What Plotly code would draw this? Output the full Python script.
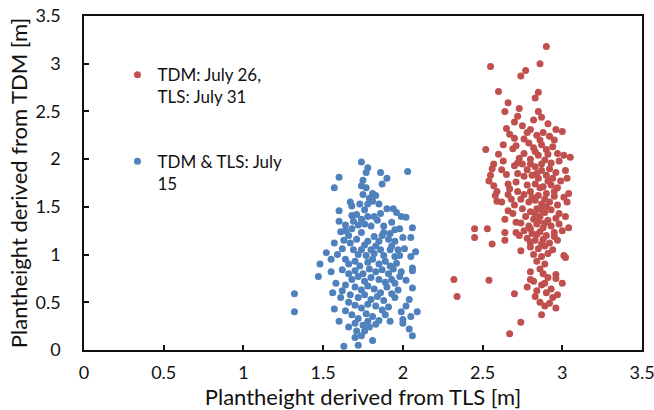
import plotly.graph_objects as go

# ---- data ----
blue_pts = [
    (1.74,1.97),(1.78,1.91),(1.77,1.86),(1.60,1.81),(2.03,1.87),(1.90,1.80),(1.87,1.74),(1.75,1.78),
    (1.74,1.72),(1.77,1.70),(1.81,1.64),(1.75,1.63),(1.83,1.62),(1.79,1.59),(1.67,1.55),(1.68,1.51),
    (1.60,1.46),(1.78,1.53),(1.85,1.53),(1.81,1.56),(1.96,1.44),(1.60,1.35),(1.64,1.31),(2.02,1.39),
    (1.99,1.40),(2.06,1.28),(2.05,1.18),(1.57,1.12),(1.61,1.24),(1.66,1.20),(1.68,1.41),(1.71,1.42),
    (1.74,1.37),(1.78,1.40),(1.82,1.40),(1.86,1.43),(1.76,1.32),(1.80,1.30),(1.84,1.36),(1.88,1.30),
    (1.93,1.34),(1.95,1.26),(1.98,1.27),(1.88,1.23),(1.82,1.19),(1.74,1.23),(1.71,1.16),(1.78,1.14),
    (1.85,1.14),(1.91,1.16),(1.95,1.14),(2.00,1.18),(1.92,1.22),(1.68,1.27),(1.64,1.25),(1.67,1.12),
    (1.69,1.05),(1.74,1.05),(1.80,1.05),(1.86,1.05),(1.92,1.05),(1.97,1.05),(2.01,1.06),(1.93,1.09),
    (1.83,1.09),(1.76,1.10),(1.72,1.00),(1.77,0.99),(1.82,1.01),(1.88,0.99),(1.95,0.98),(2.05,0.98),
    (1.98,0.99),(2.06,0.83),(2.06,0.86),(1.99,0.82),(1.47,0.77),(1.55,0.82),(1.32,0.59),(1.32,0.40),
    (1.57,0.43),(1.63,0.04),(1.72,0.05),(1.81,0.10),(1.76,0.20),(1.70,0.13),(1.74,0.15),(2.06,0.15),
    (2.04,0.22),(2.00,0.32),(2.05,0.35),(2.09,0.40),(2.02,0.46),(2.04,0.53),(2.06,0.65),(1.97,0.63),
    (1.93,0.59),(1.64,0.95),(1.66,0.90),(1.70,0.93),(1.73,0.88),(1.78,0.92),(1.81,0.95),(1.85,0.90),
    (1.89,0.93),(1.92,0.88),(1.96,0.91),(1.62,0.84),(1.66,0.80),(1.70,0.83),(1.75,0.80),(1.79,0.85),
    (1.83,0.82),(1.87,0.84),(1.91,0.80),(1.94,0.85),(1.68,0.74),(1.72,0.77),(1.76,0.72),(1.80,0.76),
    (1.85,0.74),(1.89,0.71),(1.93,0.74),(1.64,0.68),(1.70,0.66),(1.74,0.63),(1.78,0.67),(1.82,0.64),
    (1.86,0.60),(1.90,0.66),(1.67,0.58),(1.72,0.55),(1.76,0.58),(1.80,0.53),(1.84,0.56),(1.88,0.52),
    (1.66,0.50),(1.70,0.47),(1.74,0.44),(1.78,0.48),(1.83,0.46),(1.87,0.42),(1.91,0.45),(1.64,0.41),
    (1.68,0.37),(1.72,0.33),(1.77,0.38),(1.81,0.35),(1.85,0.31),(1.89,0.37),(1.70,0.28),(1.75,0.26),
    (1.79,0.24),(1.83,0.27),(1.66,0.24),(1.78,0.30),(1.62,0.62),(1.58,0.70),(1.61,0.55),(1.95,0.55),
    (1.59,1.00),(1.62,1.06),(1.55,0.95),(1.52,1.02),(1.87,1.20),(1.72,1.31),(1.69,1.35),(1.63,1.15),
    (2.02,0.73),(1.98,0.77),(1.95,0.70),(2.08,1.03),(1.48,0.90),(1.56,0.60),(1.99,0.40),(2.00,0.28),
    (1.92,0.30),(1.60,0.30),(1.57,1.70),(1.86,1.86),(1.71,0.20),(1.94,1.48),(1.90,1.48),(1.76,1.47),
    (1.73,1.53),
]
red_pts = [
    (2.90,3.18),(2.55,2.97),(2.86,3.00),(2.77,2.93),(2.74,2.87),(2.60,2.71),(2.85,2.70),(2.83,2.64),
    (2.66,2.59),(2.64,2.50),(2.73,2.53),(2.72,2.45),(2.70,2.39),(2.85,2.50),(2.87,2.44),(2.82,2.41),
    (2.91,2.37),(2.75,2.35),(2.65,2.32),(2.67,2.26),(2.96,2.31),(3.00,2.29),(2.78,2.28),(2.84,2.25),
    (2.80,2.31),(2.88,2.28),(2.92,2.24),(2.70,2.22),(2.76,2.21),(2.86,2.20),(2.95,2.20),
    (2.52,2.10),(2.63,2.15),(2.69,2.11),(2.71,2.14),(2.79,2.17),(2.82,2.12),(2.87,2.15),(2.90,2.10),
    (2.94,2.13),(3.01,2.04),(3.05,2.02),(2.97,2.06),(2.76,2.06),(2.73,2.01),(2.80,2.00),(2.85,2.04),
    (2.89,1.99),(2.93,1.96),(2.98,1.98),(2.57,1.95),(2.56,1.90),(2.62,1.89),(2.65,1.84),(2.55,1.83),
    (2.54,1.77),(2.66,1.74),(2.70,1.93),(2.75,1.95),(2.78,1.89),(2.83,1.92),(2.87,1.88),(2.92,1.90),
    (2.96,1.86),(3.02,1.88),(3.03,1.80),(2.99,1.77),(2.94,1.80),(2.90,1.83),(2.85,1.80),(2.81,1.83),
    (2.76,1.82),(2.72,1.85),(2.71,1.76),(2.78,1.73),(2.83,1.74),(2.88,1.71),(2.93,1.73),(2.97,1.70),
    (3.04,1.64),(3.01,1.60),(2.59,1.66),(2.58,1.62),(2.66,1.63),(2.59,1.56),(2.72,1.66),(2.76,1.63),
    (2.80,1.66),(2.85,1.62),(2.90,1.64),(2.95,1.61),(2.74,1.58),(2.79,1.55),(2.83,1.57),(2.87,1.53),
    (2.92,1.55),(2.97,1.52),(3.03,1.55),(2.70,1.52),(2.66,1.46),(2.69,1.43),(2.64,1.37),(2.71,1.34),
    (2.45,1.27),(2.53,1.27),(2.45,1.18),(2.64,1.23),(2.71,1.23),(2.73,1.20),(3.04,1.28),(2.75,1.48),
    (2.80,1.45),(2.84,1.48),(2.89,1.44),(2.93,1.47),(2.98,1.43),(3.02,1.40),(2.77,1.40),(2.82,1.37),
    (2.86,1.40),(2.91,1.36),(2.96,1.38),(2.74,1.33),(2.79,1.30),(2.84,1.32),(2.88,1.28),(2.93,1.30),
    (2.98,1.32),(2.76,1.25),(2.81,1.22),(2.86,1.24),(2.90,1.20),(2.95,1.23),(3.00,1.25),(2.78,1.17),
    (2.83,1.15),(2.88,1.16),(2.92,1.12),(2.97,1.15),
    (2.56,1.11),(2.64,1.15),(2.74,1.04),(2.80,1.08),(2.85,1.06),(2.89,1.09),(2.94,1.05),
    (2.82,1.00),(2.87,0.98),(2.91,1.01),(3.02,0.97),(3.01,0.99),(2.84,0.93),(2.89,0.90),(2.86,0.85),
    (2.80,0.82),(2.80,0.74),(2.88,0.80),(2.91,0.76),(2.96,0.79),(2.96,0.75),(2.32,0.74),(2.34,0.56),
    (2.54,0.73),(2.70,0.59),(2.78,0.66),(2.83,0.56),(2.74,0.29),(2.67,0.17),(2.87,0.37),(2.89,0.46),
    (2.96,0.44),(2.94,0.55),(2.97,0.58),(2.93,0.64),(3.00,0.70),(2.87,0.68),(2.84,0.62),(2.90,0.60),
    (2.86,0.50),(2.92,0.49),(2.82,0.72),(2.89,0.70),
    (2.83,2.08),(2.91,2.05),(2.87,1.95),(2.80,1.95),(2.84,1.85),(2.91,1.77),(2.86,1.70),(2.81,1.60),
    (2.89,1.58),(2.95,1.66),(2.87,1.47),(2.83,1.43),(2.90,1.50),(2.85,1.35),(2.80,1.27),(2.89,1.33),
    (2.84,1.21),(2.95,1.19),(2.87,1.11),(2.80,1.13),(2.60,2.05),(2.63,1.98),(2.57,1.72),(2.62,1.55),
    (2.68,1.58),(2.67,1.69),(2.72,1.96),
]
blue_x = [p[0] for p in blue_pts]
blue_y = [p[1] for p in blue_pts]
red_x = [p[0] for p in red_pts]
red_y = [p[1] for p in red_pts]

red_name = "TDM: July 26,<br>TLS: July 31"
blue_name = "TDM &amp; TLS: July<br>15"
x_title = "Plantheight derived from TLS [m]"
y_title = "Plantheight derived from TDM [m]"
tick_vals = [0, 0.5, 1, 1.5, 2, 2.5, 3, 3.5]
tick_text = ["0", "0.5", "1", "1.5", "2", "2.5", "3", "3.5"]

FONT = "Lato, Carlito, Calibri, sans-serif"
INK = "#111111"

fig = go.Figure()
fig.add_trace(go.Scatter(x=red_x, y=red_y, mode="markers", name=red_name,
                         marker=dict(color="#C0504D", size=7, line=dict(width=0)),
                         legend="legend"))
fig.add_trace(go.Scatter(x=blue_x, y=blue_y, mode="markers", name=blue_name,
                         marker=dict(color="#4F81BD", size=7, line=dict(width=0)),
                         legend="legend2"))

axis_common = dict(showline=True, linecolor=INK, linewidth=1.5, mirror=True,
                   ticks="inside", ticklen=5, tickcolor=INK, tickwidth=1.5,
                   showgrid=False, zeroline=False, automargin=False,
                   ticklabeloverflow="allow",
                   tickvals=tick_vals, ticktext=tick_text,
                   tickfont=dict(family=FONT, size=18, color=INK))

fig.update_layout(
    width=654, height=410,
    margin=dict(l=84, r=12, t=16, b=60),
    paper_bgcolor="white", plot_bgcolor="white",
    font=dict(family=FONT, color=INK),
    xaxis=dict(range=[0, 3.5], title=dict(text=x_title, font=dict(family=FONT, size=22, color=INK), standoff=8),
               ticklabelstandoff=6, **axis_common),
    yaxis=dict(range=[0, 3.5], title=dict(text=y_title, font=dict(family=FONT, size=22, color=INK), standoff=2),
               ticklabelstandoff=18, **axis_common),
    legend=dict(x=0.06, y=0.877, xanchor="left", yanchor="top", bgcolor="rgba(0,0,0,0)",
                font=dict(family=FONT, size=17, color=INK), valign="top", itemwidth=30),
    legend2=dict(x=0.06, y=0.618, xanchor="left", yanchor="top", bgcolor="rgba(0,0,0,0)",
                 font=dict(family=FONT, size=17, color=INK), valign="top", itemwidth=30),
    showlegend=True,
)

fig.write_html("out.html", config={"displayModeBar": False},
               post_script="document.body.style.margin='0';document.body.style.padding='0';")
